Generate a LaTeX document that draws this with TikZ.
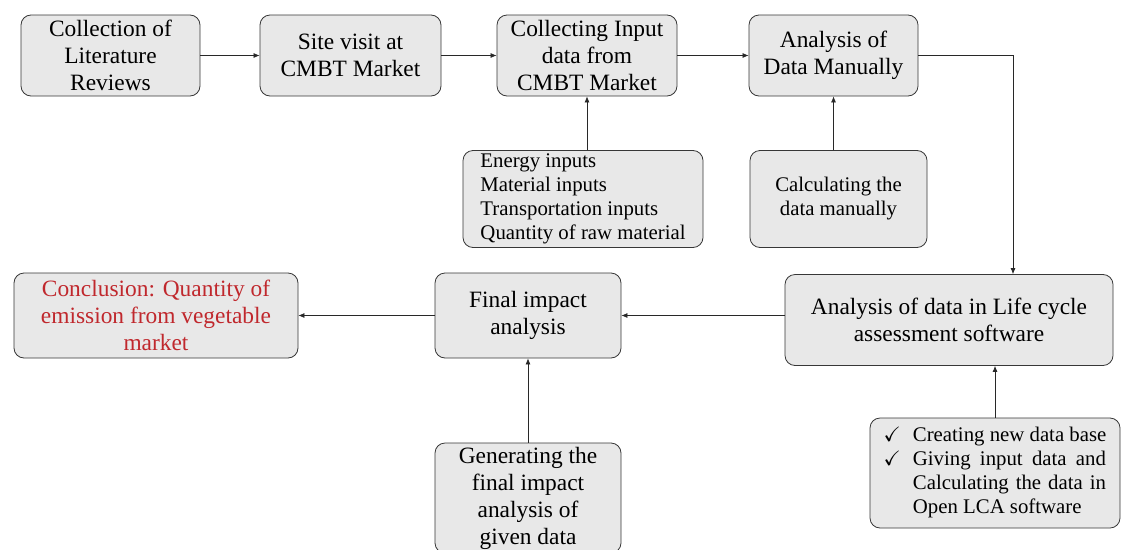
\documentclass[tikz,border=0pt]{standalone}
\usepackage{fontspec}
\setmainfont{Liberation Serif}
\usepackage{amssymb}
\usetikzlibrary{arrows.meta,positioning,calc}
\definecolor{myfill}{RGB}{232,232,232}
\definecolor{myedge}{RGB}{55,55,55}
\definecolor{myred}{RGB}{192,40,45}
\definecolor{mygray}{RGB}{40,40,40}
\newcommand{\bigtxt}{\fontsize{23.4}{27}\selectfont}
\newcommand{\smalltxt}{\fontsize{20.8}{24}\selectfont}

\begin{document}
\begin{tikzpicture}[x=1pt, y=-1pt,
  box/.style={draw=myedge, fill=myfill, rounded corners=10pt, line width=0.8pt,
    align=center, inner sep=0pt, font=\bigtxt},
  arr/.style={-{Latex[length=6pt,width=5pt]}, mygray, line width=0.7pt}]
  \useasboundingbox (0,0) rectangle (1121,549);
  % --- top row ---
  \node[box, minimum width=179pt, minimum height=81pt] (lit) at (110.5,55.5)
    {Collection of\\Literature\\Reviews};
  \node[box, minimum width=181pt, minimum height=81pt] (site) at (350.5,55.5)
    {Site visit at\\CMBT Market};
  \node[box, minimum width=180pt, minimum height=81pt] (input) at (587,55.5)
    {Collecting Input\\data from\\CMBT Market};
  \node[box, minimum width=169pt, minimum height=81pt] (manual) at (833.5,55.5)
    {Analysis of\\Data Manually};
  % --- inputs under the top row ---
  \node[box, align=left, font=\smalltxt, minimum width=240pt, minimum height=97pt] (energy) at (583,199)
    {Energy inputs\\Material inputs\\Transportation inputs\\Quantity of raw material};
  \node[box, font=\smalltxt, minimum width=177pt, minimum height=97pt] (calc) at (838.5,199)
    {Calculating the\\data manually};
  % --- lower row ---
  \node[box, minimum width=328pt, minimum height=91pt] (lca) at (949,320)
    {Analysis of data in Life cycle\\assessment software};
  \node[box, minimum width=186pt, minimum height=85pt] (final) at (528,315.5)
    {Final impact\\analysis};
  \node[box, text=myred, minimum width=284pt, minimum height=85pt] (concl) at (156,315.5)
    {Conclusion: Quantity of\\emission from vegetable\\market};
  % --- inputs under the lower row ---
  \node[box, minimum width=186pt, minimum height=110pt] (gen) at (528,498)
    {Generating the\\final impact\\analysis of\\given data};
  \node[box, font=\smalltxt, minimum width=250pt, minimum height=110pt] (openlca) at (995,473)
    {\begin{tabular}{@{}l@{\hspace{12pt}}l@{}}
      $\checkmark$ & Creating new data base\\
      $\checkmark$ & \makebox[193pt][s]{Giving input data and}\\
       & \makebox[193pt][s]{Calculating the data in}\\
       & Open LCA software
    \end{tabular}};
  % --- connectors ---
  \coordinate (turn) at (1013,55.5);
  \draw[arr] (lit) -- (site);
  \draw[arr] (site) -- (input);
  \draw[arr] (input) -- (manual);
  \draw[arr] (manual.east) -- (turn) -- (turn |- lca.north);
  \draw[arr] (energy.north -| input) -- (input.south);
  \draw[arr] (calc.north -| manual) -- (manual.south);
  \draw[arr] (lca.west |- final) -- (final.east);
  \draw[arr] (final) -- (concl);
  \draw[arr] (gen) -- (final);
  \draw[arr] (openlca.north) -- (openlca.north |- lca.south);
\end{tikzpicture}
\end{document}
